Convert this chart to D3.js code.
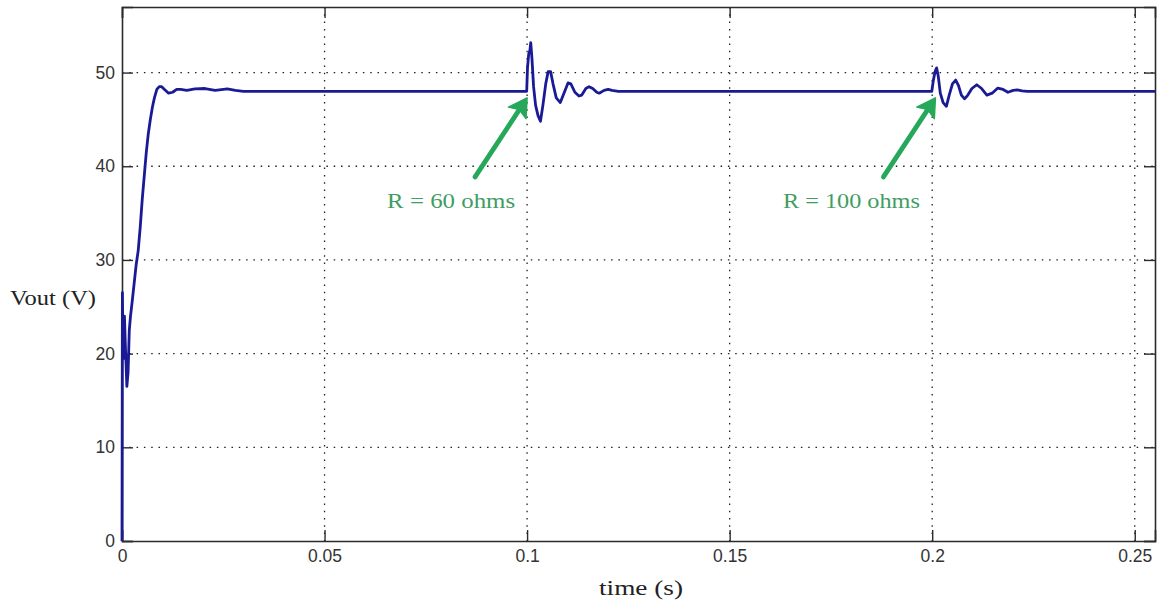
<!DOCTYPE html>
<html>
<head>
<meta charset="utf-8">
<script src="https://cdn.jsdelivr.net/npm/d3@7"></script>
<style>
  html, body { margin: 0; padding: 0; background: #ffffff; }
  svg { display: block; }
</style>
</head>
<body>
<svg id="chart" width="1161" height="601"></svg>
<script>
// ---- data ----
const xTicks = [0, 0.05, 0.1, 0.15, 0.2, 0.25];
const xTickLabels = ["0", "0.05", "0.1", "0.15", "0.2", "0.25"];
const yTicks = [0, 10, 20, 30, 40, 50];
const yTickLabels = ["0", "10", "20", "30", "40", "50"];

// time (s) and Vout (V) samples
const time = [
  0, 0.0001, 0.0002, 0.0004, 0.0006, 0.0009, 0.0012, 0.0015, 0.0018, 0.0021, 0.0025,
  0.003, 0.0035, 0.004, 0.0045, 0.005, 0.0055, 0.006, 0.0065, 0.007, 0.0075,
  0.008, 0.0086, 0.0092, 0.0098, 0.0105, 0.0115, 0.0125, 0.0135, 0.0145, 0.016,
  0.018, 0.0205, 0.023, 0.026, 0.028, 0.03,
  0.0999, 0.1001, 0.1004, 0.1007, 0.1009, 0.1012, 0.1016, 0.1021, 0.1027, 0.1033,
  0.1039, 0.1046, 0.1052, 0.1058, 0.1064, 0.1072, 0.1082, 0.1092, 0.1101, 0.1108,
  0.1118, 0.1128, 0.1135, 0.1145, 0.1153, 0.1162, 0.1172, 0.1178, 0.119, 0.12,
  0.121, 0.1225,
  0.1999, 0.2003, 0.2007, 0.2011, 0.2015, 0.202, 0.2027, 0.2035, 0.2042, 0.205,
  0.2058, 0.2065, 0.2072, 0.208, 0.2088, 0.2098, 0.211, 0.2122, 0.2135, 0.2148,
  0.2162, 0.2175, 0.2187, 0.22, 0.221, 0.2222, 0.2235,
  0.255
];
const vout = [
  0, 26.5, 22, 19.5, 24, 20, 16.5, 18, 22.5, 24, 25.5,
  27.5, 29.5, 31, 33.5, 36.5, 39, 41.5, 43.5, 45, 46.3,
  47.3, 48.2, 48.5, 48.5, 48.2, 47.8, 47.9, 48.2, 48.2, 48.1,
  48.25, 48.3, 48.1, 48.25, 48.1, 48.0,
  48.0, 50.5, 52, 52.4, 53.2, 51.5, 48.5, 46.5, 45.4, 44.8,
  46.5, 48.8, 50.1, 50.1, 48.8, 47.3, 46.8, 47.9, 48.9, 48.8,
  47.9, 47.5, 47.6, 48.3, 48.5, 48.3, 47.9, 47.8, 48.1, 48.2,
  48.1, 48.0,
  48.0, 49.2, 50.1, 50.5, 49.6, 47.8, 46.8, 46.4, 47.6, 48.8,
  49.2, 48.6, 47.6, 47.2, 47.6, 48.3, 48.7, 48.3, 47.6, 47.8,
  48.35, 48.2, 47.9, 48.1, 48.15, 48.05, 48.0,
  48.0
];

const annLabels = ["R = 60 ohms", "R = 100 ohms"];
const annTime = [0.1, 0.2008];
const annV = [47.3, 47.3];

// ---- layout ----
const svg = d3.select("#chart");
const pLeft = 122, pRight = 1155, pTop = 7, pBottom = 541;
const x = d3.scaleLinear().domain([0, 0.255]).range([pLeft, pRight]);
const y = d3.scaleLinear().domain([0, 57]).range([pBottom, pTop]);

const axisColor = "#2b2b2b";
const tickFont = "'Liberation Sans', Arial, sans-serif";
const serifFont = "'Liberation Serif', 'Times New Roman', serif";

// grid (dotted)
const grid = svg.append("g");
grid.selectAll("line.vx").data(xTicks.filter(d => d > 0)).join("line")
  .attr("x1", d => x(d)).attr("x2", d => x(d))
  .attr("y1", pTop).attr("y2", pBottom)
  .attr("stroke", "#222").attr("stroke-width", 1.3)
  .attr("stroke-dasharray", "1.5,5.8");
grid.selectAll("line.hy").data(yTicks.filter(d => d > 0)).join("line")
  .attr("x1", pLeft).attr("x2", pRight)
  .attr("y1", d => y(d)).attr("y2", d => y(d))
  .attr("stroke", "#222").attr("stroke-width", 1.3)
  .attr("stroke-dasharray", "1.5,5.8");

// axes (ticks inward)
const tickLen = 11;
const gB = svg.append("g").attr("transform", `translate(0,${pBottom})`)
  .call(d3.axisBottom(x).tickValues(xTicks).tickFormat((d, i) => xTickLabels[i])
    .tickSize(-tickLen).tickPadding(9));
const gT = svg.append("g").attr("transform", `translate(0,${pTop})`)
  .call(d3.axisTop(x).tickValues(xTicks).tickFormat("").tickSize(-tickLen));
const gL = svg.append("g").attr("transform", `translate(${pLeft},0)`)
  .call(d3.axisLeft(y).tickValues(yTicks).tickFormat((d, i) => yTickLabels[i])
    .tickSize(-tickLen).tickPadding(7));
const gR = svg.append("g").attr("transform", `translate(${pRight},0)`)
  .call(d3.axisRight(y).tickValues(yTicks).tickFormat("").tickSize(-tickLen));

[gB, gT, gL, gR].forEach(g => {
  g.selectAll(".domain").attr("stroke", axisColor).attr("stroke-width", 1.6);
  g.selectAll(".tick line").attr("stroke", axisColor).attr("stroke-width", 1.4);
  g.selectAll("text").attr("font-family", tickFont).attr("font-size", 17.5).attr("fill", "#333");
});

// data line
const pts = time.map((t, i) => [t, vout[i]]);
svg.append("path")
  .datum(pts)
  .attr("fill", "none")
  .attr("stroke", "#1a1a96")
  .attr("stroke-width", 2.8)
  .attr("stroke-linejoin", "round")
  .attr("d", d3.line().x(d => x(d[0])).y(d => y(d[1])));

// axis labels
svg.append("text").attr("x", 641).attr("y", 595)
  .attr("text-anchor", "middle").attr("font-family", serifFont)
  .attr("font-size", 22).attr("fill", "#222")
  .attr("textLength", 84).attr("lengthAdjust", "spacingAndGlyphs").text("time (s)");
svg.append("text").attr("x", 10).attr("y", 305)
  .attr("text-anchor", "start").attr("font-family", serifFont)
  .attr("font-size", 22).attr("fill", "#222")
  .attr("textLength", 86).attr("lengthAdjust", "spacingAndGlyphs").text("Vout (V)");

// annotations (green arrows)
const green = "#26a85a";
const labelWidths = [128, 137];
const labelCenters = [-24, -32];
annLabels.forEach((lab, i) => {
  const tx = x(annTime[i]), ty = y(annV[i]);
  const sx = tx - 52, sy = ty + 79;
  const dx = tx - sx, dy = ty - sy, L = Math.hypot(dx, dy);
  const ux = dx / L, uy = dy / L, px = -uy, py = ux;
  const bx = tx - 18 * ux, by = ty - 18 * uy;
  svg.append("line").attr("x1", sx).attr("y1", sy).attr("x2", bx + 3 * ux).attr("y2", by + 3 * uy)
    .attr("stroke", green).attr("stroke-width", 4.8).attr("stroke-linecap", "round");
  svg.append("path")
    .attr("d", `M${tx},${ty} L${bx + 10.5 * px},${by + 10.5 * py} L${bx + 4 * ux},${by + 4 * uy} L${bx - 10.5 * px},${by - 10.5 * py} Z`)
    .attr("fill", green).attr("stroke", green).attr("stroke-width", 1.5).attr("stroke-linejoin", "round");
  svg.append("text").attr("x", sx + labelCenters[i]).attr("y", sy + 31)
    .attr("text-anchor", "middle").attr("font-family", serifFont)
    .attr("font-size", 22).attr("fill", "#3f9d63")
    .attr("textLength", labelWidths[i]).attr("lengthAdjust", "spacingAndGlyphs").text(lab);
});
</script>
</body>
</html>
